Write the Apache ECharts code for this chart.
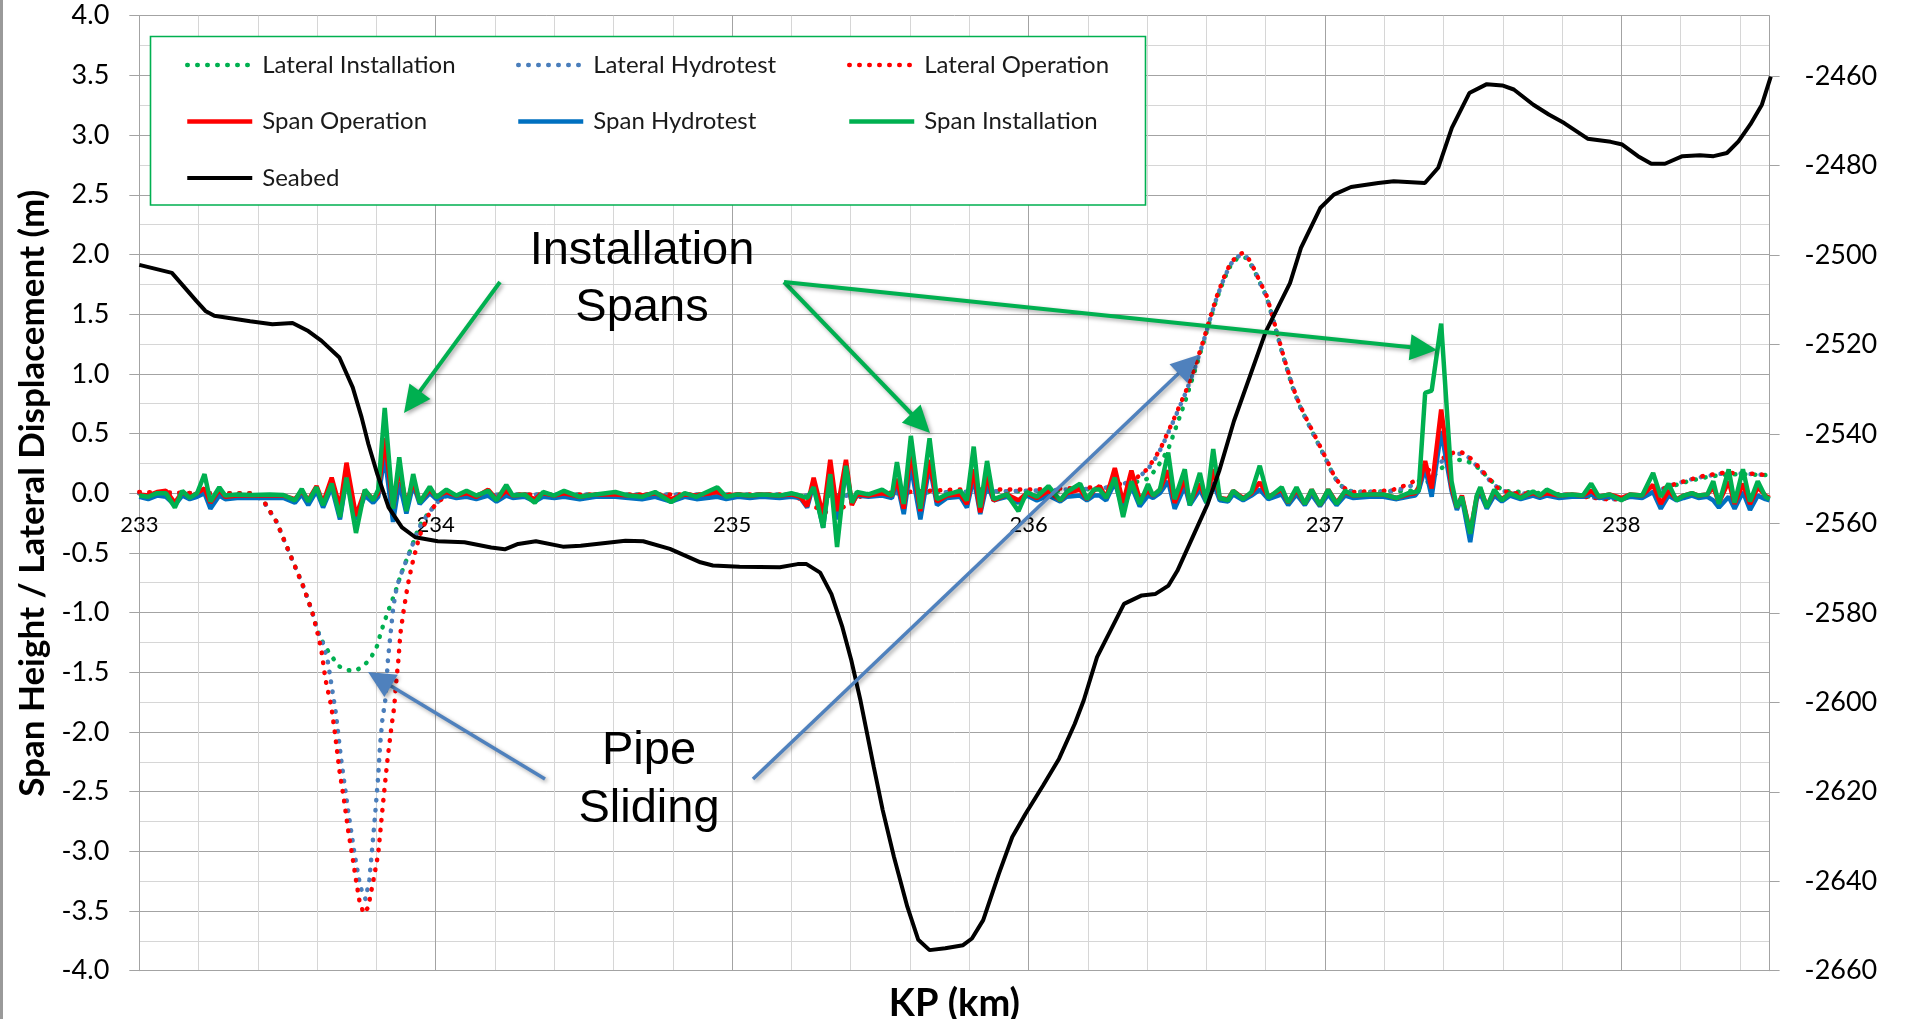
<!DOCTYPE html>
<html>
<head>
<meta charset="utf-8">
<script src="https://cdn.jsdelivr.net/npm/echarts@6/dist/echarts.min.js"></script>
<style>
  html, body { margin: 0; padding: 0; background: #ffffff; }
  #chart { width: 1907px; height: 1019px; }
</style>
</head>
<body>
<div id="chart"></div>
<script>
// ---- Span heights (m) along the route, shared KP stations ----
const spanKp = [
  233.000, 233.030, 233.060, 233.090, 233.120, 233.145, 233.170, 233.195, 233.220, 233.240,
  233.270, 233.290, 233.330, 233.380, 233.440, 233.486, 233.525, 233.548, 233.570, 233.598,
  233.620, 233.649, 233.677, 233.699, 233.731, 233.761, 233.789, 233.806, 233.828, 233.856,
  233.877, 233.901, 233.924, 233.946, 233.980, 234.002, 234.036, 234.070, 234.104, 234.137,
  234.177, 234.205, 234.238, 234.260, 234.300, 234.334, 234.362, 234.400, 234.433, 234.486,
  234.540, 234.606, 234.650, 234.696, 234.740, 234.794, 234.840, 234.880, 234.950, 234.980,
  235.020, 235.060, 235.100, 235.160, 235.200, 235.230, 235.253, 235.275, 235.307, 235.331,
  235.354, 235.384, 235.404, 235.421, 235.460, 235.506, 235.539, 235.556, 235.579, 235.603,
  235.635, 235.666, 235.691, 235.725, 235.770, 235.792, 235.815, 235.837, 235.860, 235.882,
  235.927, 235.966, 235.994, 236.028, 236.067, 236.107, 236.129, 236.174, 236.197, 236.220,
  236.240, 236.262, 236.291, 236.319, 236.347, 236.375, 236.403, 236.420, 236.443, 236.471,
  236.493, 236.527, 236.544, 236.578, 236.600, 236.623, 236.645, 236.673, 236.690, 236.724,
  236.752, 236.780, 236.809, 236.854, 236.876, 236.904, 236.932, 236.955, 236.983, 237.011,
  237.039, 237.068, 237.096, 237.150, 237.197, 237.242, 237.280, 237.304, 237.316, 237.338,
  237.360, 237.392, 237.427, 237.445, 237.462, 237.490, 237.512, 237.524, 237.546, 237.571,
  237.597, 237.624, 237.660, 237.702, 237.725, 237.748, 237.790, 237.833, 237.870, 237.898,
  237.924, 237.960, 238.000, 238.030, 238.070, 238.107, 238.133, 238.159, 238.186, 238.210,
  238.238, 238.260, 238.290, 238.310, 238.329, 238.362, 238.382, 238.410, 238.434, 238.460,
  238.486, 238.500
];
const spanOperation = [
  -0.01, -0.02, 0.01, 0.02, -0.08, 0.01, -0.03, 0.00, 0.04, -0.08,
  0.03, -0.03, -0.02, -0.02, -0.02, -0.02, -0.05, 0.02, -0.06, 0.06,
  -0.08, 0.13, -0.12, 0.255, -0.19, 0.02, -0.05, 0.00, 0.46, -0.12,
  0.21, -0.10, 0.10, -0.07, 0.03, -0.03, 0.01, -0.02, 0.00, -0.03,
  0.03, -0.05, 0.02, -0.02, -0.01, -0.05, 0.00, -0.02, 0.00, -0.03,
  -0.01, -0.01, -0.02, -0.02, 0.00, -0.05, -0.01, -0.02, 0.01, -0.02,
  -0.01, -0.02, -0.01, -0.02, -0.01, -0.03, -0.11, 0.13, -0.19, 0.28,
  -0.15, 0.28, -0.10, -0.01, -0.02, 0.00, -0.02, 0.12, -0.13, 0.35,
  -0.15, 0.28, -0.07, -0.02, -0.01, -0.09, 0.20, -0.16, 0.16, -0.06,
  -0.01, -0.06, 0.00, -0.04, 0.02, -0.06, 0.00, 0.03, -0.05, 0.02,
  0.06, -0.04, 0.21, -0.08, 0.19, -0.05, 0.02, -0.02, 0.03, 0.19,
  -0.08, 0.12, -0.08, 0.08, -0.06, 0.20, -0.04, -0.05, 0.02, -0.04,
  0.00, 0.09, -0.03, 0.03, -0.08, 0.03, -0.09, 0.03, -0.10, 0.03,
  -0.08, 0.01, -0.02, -0.01, -0.01, -0.04, -0.01, 0.00, 0.05, 0.27,
  0.04, 0.70, 0.05, -0.12, -0.02, -0.33, -0.03, 0.04, -0.11, 0.01,
  -0.05, 0.00, -0.03, 0.00, -0.02, 0.00, -0.02, -0.01, -0.02, 0.02,
  -0.03, -0.01, -0.04, -0.01, -0.02, 0.07, -0.09, 0.02, -0.05, -0.02,
  0.00, -0.02, -0.01, 0.05, -0.08, 0.10, -0.09, 0.08, -0.09, 0.05,
  -0.02, -0.04
];
const spanHydrotest = [
  -0.03, -0.05, -0.02, -0.03, -0.10, -0.02, -0.05, -0.03, 0.00, -0.13,
  -0.02, -0.05, -0.04, -0.04, -0.04, -0.04, -0.08, -0.01, -0.10, 0.02,
  -0.12, 0.05, -0.22, 0.12, -0.22, -0.02, -0.08, -0.03, 0.31, -0.24,
  0.09, -0.17, 0.075, -0.09, 0.00, -0.05, -0.02, -0.04, -0.03, -0.05,
  -0.02, -0.07, -0.02, -0.04, -0.03, -0.07, -0.03, -0.04, -0.03, -0.05,
  -0.03, -0.03, -0.04, -0.05, -0.03, -0.07, -0.03, -0.05, -0.03, -0.05,
  -0.03, -0.04, -0.03, -0.04, -0.03, -0.04, -0.12, 0.075, -0.29, 0.19,
  -0.22, 0.19, -0.09, -0.02, -0.03, -0.02, -0.04, 0.09, -0.175, 0.23,
  -0.22, 0.23, -0.10, -0.04, -0.03, -0.12, 0.13, -0.175, 0.08, -0.06,
  -0.03, -0.08, -0.02, -0.06, -0.02, -0.07, -0.03, -0.02, -0.06, -0.02,
  -0.02, -0.06, 0.09, -0.14, 0.06, -0.11, -0.02, -0.04, 0.00, 0.10,
  -0.13, 0.06, -0.10, 0.03, -0.08, 0.09, -0.06, -0.07, -0.01, -0.06,
  -0.02, 0.03, -0.05, -0.01, -0.10, -0.01, -0.10, -0.01, -0.11, -0.01,
  -0.10, -0.02, -0.04, -0.03, -0.03, -0.05, -0.03, -0.02, 0.02, 0.21,
  -0.03, 0.52, 0.02, -0.14, -0.04, -0.41, -0.05, 0.00, -0.13, -0.02,
  -0.07, -0.02, -0.05, -0.02, -0.04, -0.02, -0.04, -0.03, -0.03, -0.01,
  -0.04, -0.03, -0.05, -0.03, -0.04, 0.01, -0.13, -0.02, -0.06, -0.04,
  -0.02, -0.04, -0.03, -0.06, -0.12, -0.03, -0.13, 0.01, -0.14, -0.02,
  -0.05, -0.06
];
const spanInstallation = [
  -0.02, -0.03, 0.00, 0.00, -0.12, 0.02, -0.04, 0.00, 0.16, -0.07,
  0.05, -0.02, -0.01, -0.015, -0.01, -0.015, -0.06, 0.035, -0.07, 0.05,
  -0.10, 0.08, -0.20, 0.13, -0.333, 0.03, -0.06, 0.03, 0.714, -0.13,
  0.30, -0.15, 0.16, -0.08, 0.055, -0.035, 0.03, -0.02, 0.02, -0.02,
  0.02, -0.06, 0.07, -0.02, -0.01, -0.08, 0.01, -0.02, 0.02, -0.03,
  -0.01, 0.01, -0.02, -0.03, 0.01, -0.075, 0.00, -0.03, 0.05, -0.03,
  -0.01, -0.02, -0.01, -0.02, 0.00, -0.02, -0.04, 0.05, -0.29, 0.16,
  -0.45, 0.23, -0.08, 0.01, -0.01, 0.03, -0.02, 0.26, -0.09, 0.48,
  -0.13, 0.46, -0.05, -0.01, 0.02, -0.06, 0.39, -0.12, 0.27, -0.05,
  -0.01, -0.15, 0.01, -0.03, 0.06, -0.06, 0.01, 0.08, -0.05, 0.03,
  0.03, -0.04, 0.13, -0.20, 0.10, -0.09, 0.075, -0.02, 0.03, 0.34,
  -0.05, 0.20, -0.10, 0.17, -0.08, 0.37, -0.04, -0.06, 0.02, -0.05,
  0.01, 0.23, -0.04, 0.05, -0.08, 0.05, -0.09, 0.03, -0.10, 0.03,
  -0.09, 0.02, -0.02, -0.01, -0.01, -0.04, 0.00, 0.01, 0.02, 0.84,
  0.86, 1.42, 0.10, -0.12, -0.03, -0.34, -0.02, 0.05, -0.12, 0.03,
  -0.06, 0.00, -0.04, 0.015, -0.02, 0.03, -0.02, -0.01, -0.02, 0.08,
  -0.03, -0.01, -0.06, -0.01, -0.02, 0.17, -0.03, 0.08, -0.06, -0.02,
  0.00, -0.02, -0.01, 0.10, -0.09, 0.20, -0.08, 0.20, -0.07, 0.10,
  -0.03, -0.05
];

// ---- Lateral displacement (m), [KP, value] ----
const lateralOperation = [
  [233.0, 0.01], [233.2, 0.0], [233.38, 0.0], [233.418, -0.06], [233.463, -0.24], [233.508, -0.51],
  [233.553, -0.78], [233.583, -0.99], [233.601, -1.17], [233.614, -1.31], [233.628, -1.56],
  [233.648, -1.79], [233.66, -2.01], [233.675, -2.32], [233.69, -2.56], [233.705, -2.83],
  [233.72, -3.06], [233.731, -3.24], [233.743, -3.42], [233.757, -3.52], [233.772, -3.47],
  [233.79, -3.24], [233.806, -3.02], [233.821, -2.63], [233.836, -2.26], [233.851, -1.95],
  [233.86, -1.79], [233.866, -1.6], [233.874, -1.4], [233.881, -1.17], [233.892, -0.98],
  [233.905, -0.78], [233.92, -0.6], [233.945, -0.36], [233.974, -0.19], [234.0, -0.09],
  [234.03, -0.03], [234.1, -0.01], [235.2, -0.01], [235.23, -0.05], [235.275, -0.11],
  [235.331, -0.175], [235.388, -0.1], [235.43, -0.03], [235.5, 0.0], [235.75, 0.03],
  [236.0, 0.03], [236.24, 0.05], [236.3, 0.07], [236.355, 0.11], [236.4, 0.2], [236.43, 0.31],
  [236.45, 0.4], [236.47, 0.51], [236.49, 0.62], [236.53, 0.85], [236.56, 1.05], [236.59, 1.28],
  [236.61, 1.45], [236.635, 1.65], [236.661, 1.82], [236.682, 1.93], [236.705, 1.99],
  [236.72, 2.01], [236.735, 1.99], [236.751, 1.93], [236.766, 1.85], [236.781, 1.77],
  [236.804, 1.65], [236.83, 1.42], [236.86, 1.15], [236.89, 0.9], [236.915, 0.74],
  [236.938, 0.62], [236.972, 0.45], [237.006, 0.28], [237.028, 0.16], [237.05, 0.075],
  [237.073, 0.03], [237.096, 0.01], [237.197, 0.02], [237.231, 0.03], [237.265, 0.06],
  [237.293, 0.09], [237.32, 0.13], [237.349, 0.19], [237.388, 0.28], [237.427, 0.335],
  [237.454, 0.35], [237.48, 0.32], [237.519, 0.22], [237.558, 0.11], [237.584, 0.04],
  [237.624, 0.0], [237.8, -0.01], [237.95, -0.05], [238.0, -0.05], [238.05, -0.02],
  [238.094, 0.0], [238.133, 0.03], [238.173, 0.07], [238.225, 0.11], [238.277, 0.145],
  [238.342, 0.17], [238.408, 0.17], [238.5, 0.15]
];
const lateralHydrotest = [
  [233.0, 0.0], [233.2, 0.0], [233.38, -0.01], [233.418, -0.06], [233.463, -0.24], [233.508, -0.51],
  [233.553, -0.78], [233.583, -0.99], [233.601, -1.15], [233.62, -1.26], [233.636, -1.41],
  [233.648, -1.6], [233.663, -1.84], [233.681, -2.23], [233.704, -2.65], [233.726, -3.02],
  [233.746, -3.3], [233.763, -3.4], [233.776, -3.24], [233.787, -2.94], [233.797, -2.65],
  [233.806, -2.37], [233.812, -2.12], [233.821, -1.87], [233.829, -1.76], [233.839, -1.39],
  [233.848, -1.17], [233.857, -0.95], [233.869, -0.78], [233.884, -0.67], [233.914, -0.48],
  [233.944, -0.29], [233.974, -0.17], [234.012, -0.06], [234.04, -0.02], [234.3, -0.01],
  [235.2, -0.01], [235.3, -0.03], [235.4, -0.02], [235.5, 0.0], [235.75, 0.01], [236.0, 0.02],
  [236.24, 0.04], [236.3, 0.06], [236.355, 0.11], [236.4, 0.19], [236.43, 0.3], [236.45, 0.39],
  [236.47, 0.5], [236.49, 0.61], [236.53, 0.84], [236.56, 1.04], [236.59, 1.27], [236.61, 1.44],
  [236.635, 1.64], [236.661, 1.81], [236.682, 1.92], [236.705, 1.98], [236.72, 2.0],
  [236.735, 1.98], [236.751, 1.92], [236.766, 1.85], [236.781, 1.76], [236.804, 1.64],
  [236.83, 1.41], [236.86, 1.14], [236.89, 0.9], [236.915, 0.73], [236.938, 0.61],
  [236.972, 0.44], [237.006, 0.27], [237.028, 0.15], [237.05, 0.07], [237.073, 0.03],
  [237.096, 0.01], [237.2, 0.01], [237.265, 0.04], [237.3, 0.07], [237.35, 0.16],
  [237.39, 0.26], [237.427, 0.32], [237.454, 0.33], [237.48, 0.31], [237.519, 0.21],
  [237.558, 0.1], [237.59, 0.03], [237.624, 0.0], [237.8, -0.01], [237.95, -0.05],
  [238.0, -0.05], [238.05, -0.02], [238.094, 0.0], [238.133, 0.03], [238.173, 0.07],
  [238.225, 0.11], [238.277, 0.14], [238.342, 0.165], [238.408, 0.165], [238.5, 0.15]
];
const lateralInstallation = [
  [233.0, 0.0], [233.2, 0.0], [233.38, 0.0], [233.418, -0.06], [233.463, -0.24], [233.508, -0.51],
  [233.553, -0.78], [233.583, -0.99], [233.601, -1.15], [233.621, -1.26], [233.644, -1.35],
  [233.674, -1.45], [233.7, -1.48], [233.725, -1.49], [233.75, -1.46], [233.779, -1.39],
  [233.802, -1.28], [233.817, -1.15], [233.839, -0.99], [233.862, -0.84], [233.884, -0.67],
  [233.914, -0.48], [233.944, -0.28], [233.974, -0.17], [234.012, -0.06], [234.04, -0.02],
  [234.3, -0.01], [235.2, -0.01], [235.3, -0.03], [235.4, -0.01], [235.7, 0.01], [236.1, 0.02],
  [236.25, 0.04], [236.33, 0.07], [236.4, 0.12], [236.43, 0.2], [236.45, 0.28], [236.47, 0.36],
  [236.49, 0.5], [236.53, 0.78], [236.56, 1.02], [236.59, 1.26], [236.61, 1.43], [236.635, 1.63],
  [236.661, 1.8], [236.682, 1.91], [236.705, 1.97], [236.72, 1.98], [236.735, 1.97],
  [236.751, 1.91], [236.766, 1.84], [236.781, 1.76], [236.804, 1.64], [236.83, 1.41],
  [236.86, 1.14], [236.89, 0.89], [236.915, 0.73], [236.938, 0.61], [236.972, 0.44],
  [237.006, 0.27], [237.028, 0.15], [237.05, 0.07], [237.073, 0.03], [237.096, 0.01],
  [237.3, 0.02], [237.35, 0.1], [237.39, 0.2], [237.414, 0.26], [237.45, 0.28], [237.48, 0.27],
  [237.519, 0.21], [237.558, 0.11], [237.6, 0.02], [237.8, -0.01], [237.95, -0.04],
  [238.0, -0.04], [238.05, -0.02], [238.094, 0.0], [238.133, 0.02], [238.173, 0.06],
  [238.225, 0.1], [238.277, 0.13], [238.342, 0.155], [238.408, 0.16], [238.5, 0.15]
];

// ---- Seabed elevation (m, secondary axis), [KP, elevation] ----
const seabed = [
  [233.0, -2502.2], [233.11, -2504.0], [233.193, -2510.3], [233.223, -2512.5], [233.253, -2513.6],
  [233.374, -2514.8], [233.449, -2515.5], [233.517, -2515.2], [233.57, -2517.0], [233.615, -2519.2],
  [233.675, -2522.9], [233.72, -2529.6], [233.75, -2536.3], [233.773, -2542.3], [233.803, -2549.0],
  [233.841, -2556.4], [233.886, -2560.9], [233.931, -2563.1], [234.007, -2564.0], [234.097, -2564.2],
  [234.187, -2565.4], [234.233, -2565.8], [234.278, -2564.6], [234.338, -2564.0], [234.429, -2565.2],
  [234.489, -2565.0], [234.64, -2563.9], [234.7, -2564.0], [234.79, -2565.7], [234.893, -2568.7],
  [234.935, -2569.4], [235.025, -2569.7], [235.161, -2569.8], [235.221, -2569.1], [235.251, -2569.1],
  [235.297, -2571.0], [235.335, -2575.8], [235.372, -2583.2], [235.402, -2590.6], [235.433, -2599.6],
  [235.478, -2614.5], [235.508, -2624.1], [235.546, -2634.6], [235.591, -2645.7], [235.628, -2653.1],
  [235.666, -2655.4], [235.719, -2655.0], [235.779, -2654.3], [235.809, -2652.8], [235.847, -2648.7],
  [235.9, -2638.3], [235.945, -2630.1], [235.99, -2624.9], [236.05, -2618.5], [236.103, -2612.6],
  [236.156, -2604.8], [236.186, -2599.6], [236.231, -2589.9], [236.322, -2578.0], [236.382, -2576.1],
  [236.427, -2575.8], [236.472, -2573.9], [236.502, -2570.6], [236.604, -2555.7], [236.643, -2548.3],
  [236.693, -2537.1], [236.8, -2517.2], [236.882, -2506.3], [236.919, -2498.4], [236.984, -2489.5],
  [237.03, -2486.5], [237.088, -2484.8], [237.18, -2483.9], [237.232, -2483.5], [237.337, -2483.9],
  [237.382, -2480.5], [237.428, -2471.6], [237.487, -2463.8], [237.546, -2461.8], [237.598, -2462.1],
  [237.637, -2463.0], [237.703, -2466.4], [237.755, -2468.6], [237.807, -2470.5], [237.886, -2474.0],
  [237.964, -2474.7], [238.003, -2475.3], [238.056, -2477.9], [238.101, -2479.6], [238.147, -2479.6],
  [238.206, -2477.9], [238.265, -2477.7], [238.311, -2477.9], [238.356, -2477.2], [238.395, -2474.6],
  [238.435, -2470.8], [238.474, -2466.4], [238.504, -2460.1]
];

// ---- Axis settings ----
const kpRange = [233, 238.5];
const heightRange = [-4, 4];
const seabedRange = [-2660, -2446.5];

const COLORS = {
  red: '#FF0000',
  spanBlue: '#0070C0',
  lateralBlue: '#4A7EBB',
  green: '#00B050',
  black: '#000000',
  gridMajor: '#a3a3a3',
  gridMinor: '#d6d6d6'
};

const GRID = { left: 139.3, right: 137.4, top: 15.7, bottom: 48.3 };
const plotHeight = 1019 - GRID.top - GRID.bottom;
// the KP labels sit on the zero line of the primary axis
const zeroLineOffset = -plotHeight * (0 - heightRange[0]) / (heightRange[1] - heightRange[0]);

const pair = (xs, ys) => xs.map((x, i) => [x, ys[i]]);
const dotted = { type: [0.5, 9.5], cap: 'round', width: 4.5 };
const solid = { width: 4.5 };

function lineSeries(name, data, color, lineStyle, yAxisIndex) {
  return {
    name, type: 'line', data, yAxisIndex: yAxisIndex || 0, xAxisIndex: 0,
    symbol: 'none', smooth: false, silent: true,
    lineStyle: Object.assign({ color }, lineStyle),
    itemStyle: { color }
  };
}

const series = [
  lineSeries('Lateral Installation', lateralInstallation, COLORS.green, dotted),
  lineSeries('Lateral Hydrotest', lateralHydrotest, COLORS.lateralBlue, dotted),
  lineSeries('Lateral Operation', lateralOperation, COLORS.red, dotted),
  lineSeries('Span Hydrotest', pair(spanKp, spanHydrotest), COLORS.spanBlue, solid),
  lineSeries('Span Operation', pair(spanKp, spanOperation), COLORS.red, solid),
  lineSeries('Span Installation', pair(spanKp, spanInstallation), COLORS.green, solid),
  lineSeries('Seabed', seabed, COLORS.black, { width: 4 }, 1)
];

const legendText = { fontFamily: 'Lato', fontSize: 24, color: '#1a1a1a', padding: [0, 0, 0, 5] };
function legendColumn(names, left) {
  return {
    data: names, orient: 'vertical', left, top: 53, padding: 0,
    itemWidth: 65, itemHeight: 22, itemGap: 32.5,
    selectedMode: false, textStyle: legendText, z: 6,
    itemStyle: { opacity: 0 },
    lineStyle: { width: 'inherit', type: 'inherit', cap: 'inherit' }
  };
}

// ---- Annotation helpers (pixel layout) ----
const shadow = { shadowColor: 'rgba(0,0,0,0.35)', shadowBlur: 4, shadowOffsetX: 2, shadowOffsetY: 2 };
function arrow(x1, y1, x2, y2, color, width) {
  const dx = x2 - x1, dy = y2 - y1, len = Math.hypot(dx, dy);
  const ux = dx / len, uy = dy / len, hl = 27, hw = 13;
  const bx = x2 - ux * hl, by = y2 - uy * hl;
  return [
    { type: 'line', z: 7, shape: { x1, y1, x2: bx + ux * 3, y2: by + uy * 3 },
      style: Object.assign({ stroke: color, lineWidth: width, lineCap: 'butt' }, shadow) },
    { type: 'polygon', z: 7, shape: { points: [[x2, y2], [bx - uy * hw, by + ux * hw], [bx + uy * hw, by - ux * hw]] },
      style: Object.assign({ fill: color }, shadow) }
  ];
}
function label(text, x, y) {
  return { type: 'text', z: 7, style: { text, x, y, font: '47px "Liberation Sans", Arial, sans-serif',
    fill: '#000', textAlign: 'center', textVerticalAlign: 'middle' } };
}

const graphic = [
  { type: 'rect', z: 10, shape: { x: 0, y: 0, width: 3, height: 1019 }, style: { fill: '#9a9a9a' } },
  { type: 'rect', z: 3, shape: { x: 150.5, y: 36.5, width: 995, height: 168.5 },
    style: { fill: '#ffffff', stroke: COLORS.green, lineWidth: 1.6 } },
  label('Installation', 642, 251),
  label('Spans', 642, 308),
  label('Pipe', 649, 751),
  label('Sliding', 649, 809),
  ...arrow(500, 282, 404, 413, COLORS.green, 4),
  ...arrow(784, 282, 930, 433, COLORS.green, 4),
  ...arrow(784, 282, 1437, 350, COLORS.green, 4),
  ...arrow(545, 779, 368, 672, '#4F81BD', 3.5),
  ...arrow(753, 779, 1198, 355, '#4F81BD', 3.5)
];

const axisText = { fontFamily: 'Lato', color: '#000' };

const option = {
  animation: false,
  backgroundColor: '#ffffff',
  grid: Object.assign({ containLabel: false, outerBoundsMode: 'none' }, GRID),
  legend: [
    legendColumn(['Lateral Installation', 'Span Operation', 'Seabed'], 185),
    legendColumn(['Lateral Hydrotest', 'Span Hydrotest'], 516),
    legendColumn(['Lateral Operation', 'Span Installation'], 847)
  ],
  xAxis: [
    {
      // frame, grid lines and title
      type: 'value', min: kpRange[0], max: kpRange[1], interval: 0.2, position: 'bottom',
      axisLine: { onZero: false, lineStyle: { color: COLORS.gridMajor, width: 1 } },
      axisTick: { show: false }, axisLabel: { show: false },
      splitLine: { show: true, lineStyle: { width: 1,
        color: [COLORS.gridMajor, COLORS.gridMinor, COLORS.gridMinor, COLORS.gridMinor, COLORS.gridMinor] } },
      name: 'KP (km)', nameLocation: 'middle', nameGap: 14,
      nameTextStyle: Object.assign({ fontSize: 38, fontWeight: 'bold', verticalAlign: 'top' }, axisText)
    },
    {
      // KP labels riding on the zero line
      type: 'value', min: kpRange[0], max: kpRange[1], interval: 1, position: 'bottom',
      offset: zeroLineOffset,
      axisLine: { show: true, onZero: false, lineStyle: { color: COLORS.gridMajor, width: 1 } },
      axisTick: { show: false }, splitLine: { show: false },
      axisLabel: Object.assign({ fontSize: 22, margin: 21, showMaxLabel: false }, axisText)
    }
  ],
  yAxis: [
    {
      type: 'value', position: 'left', min: heightRange[0], max: heightRange[1], interval: 0.5,
      axisLine: { show: true, onZero: false, lineStyle: { color: COLORS.gridMajor } },
      axisTick: { show: true, inside: false, length: 10, lineStyle: { color: COLORS.gridMajor } },
      axisLabel: Object.assign({ fontSize: 27, margin: 30, formatter: v => v.toFixed(1) }, axisText),
      splitLine: { show: true, lineStyle: { color: COLORS.gridMajor, width: 1 } },
      minorTick: { show: false, splitNumber: 2 },
      minorSplitLine: { show: true, lineStyle: { color: COLORS.gridMinor, width: 1 } },
      name: 'Span Height / Lateral Displacement (m)', nameLocation: 'middle', nameGap: 84,
      nameTextStyle: Object.assign({ fontSize: 35, fontWeight: 'bold' }, axisText)
    },
    {
      type: 'value', position: 'right', min: seabedRange[0], max: seabedRange[1], interval: 20,
      axisLine: { show: true, onZero: false, lineStyle: { color: COLORS.gridMajor } },
      axisTick: { show: true, inside: false, length: 10, lineStyle: { color: COLORS.gridMajor } },
      axisLabel: Object.assign({ fontSize: 27, margin: 35, showMaxLabel: false, formatter: v => String(v) }, axisText),
      splitLine: { show: false }
    }
  ],
  series,
  graphic
};

const chart = echarts.init(document.getElementById('chart'), null, { renderer: 'canvas' });
chart.setOption(option);
</script>
</body>
</html>
